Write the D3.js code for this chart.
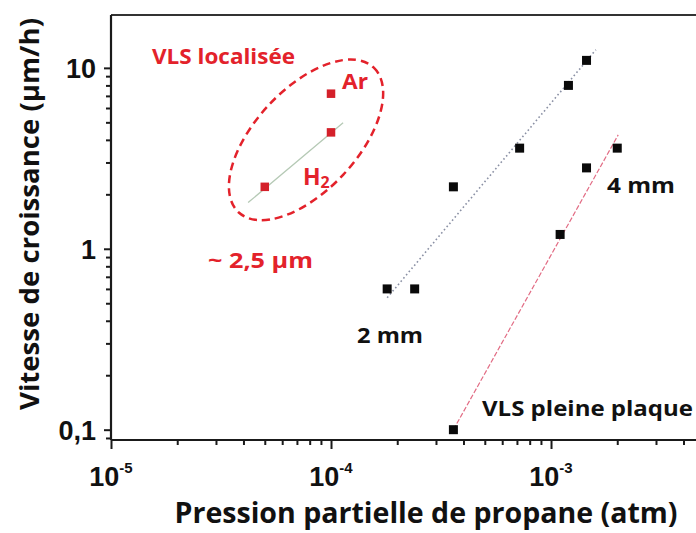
<!DOCTYPE html>
<html><head><meta charset="utf-8">
<script src="https://cdn.jsdelivr.net/npm/d3@7/dist/d3.min.js"></script>
<style>
html,body{margin:0;padding:0;background:#fff;}
svg{display:block;}
</style></head>
<body>
<div id="chart"></div>
<script>
// ---- Data ----
const xMajorTicks = [1e-5, 1e-4, 1e-3];
const xTickExponents = ["-5", "-4", "-3"];
const yMajorTicks = [0.1, 1, 10];
const yTickLabels = ["0,1", "1", "10"];

// VLS "2 mm" series
const mm2X = [1.8e-4, 2.4e-4, 3.6e-4, 7.2e-4, 1.2e-3, 1.45e-3];
const mm2Y = [0.6, 0.6, 2.2, 3.6, 8.0, 11.0];
// VLS "4 mm" series (pleine plaque)
const mm4X = [3.6e-4, 1.1e-3, 1.45e-3, 2.0e-3];
const mm4Y = [0.1, 1.2, 2.8, 3.6];
// VLS localisée (red)
const h2X = [5e-5, 1e-4];
const h2Y = [2.2, 4.4];
const arX = [1e-4];
const arY = [7.2];

// fit lines (endpoints in data space)
const fit2mmX = [1.8e-4, 1.6e-3];
const fit2mmY = [0.536, 12.6];
const fit4mmX = [3.6e-4, 2.02e-3];
const fit4mmY = [0.1, 4.26];
const fitH2X = [4.2e-5, 1.135e-4];
const fitH2Y = [1.8, 4.97];

// annotation ellipse center in data space
const ellipseCenter = [7.7e-5, 4.0];

// ---- Setup ----
const W = 696, H = 533;
const m = {left: 111, top: 15, right: 0, bottom: 93};
const RED = "#e3222b";
const FONT = "'Open Sans', Lato, sans-serif";
const NUMFONT = "'Liberation Sans', Arial, sans-serif";

const svg = d3.select("#chart").append("svg").attr("width", W).attr("height", H);

const x = d3.scaleLog().domain([1e-5, 4.56e-3]).range([m.left, W - m.right]);
const y = d3.scaleLog().domain([0.0877, 19.6]).range([H - m.bottom, m.top]);

// minor ticks
const xMinor = [];
[1e-5, 1e-4, 1e-3].forEach(d => { for (let k = 2; k <= 9; k++) { const v = d * k; if (v <= x.domain()[1]) xMinor.push(v); } });
const yMinor = [];
[0.01, 0.1, 1].forEach(d => { for (let k = 2; k <= 9; k++) { const v = d * k; if (v >= y.domain()[0] && v <= y.domain()[1]) yMinor.push(v); } });

const axisColor = "#1a1a1a";
function styleAxis(g) {
  g.select(".domain").remove();
  g.selectAll("line").attr("stroke", axisColor).attr("stroke-width", 2);
}

// x axis ticks
svg.append("g").attr("transform", `translate(0,${H - m.bottom})`)
  .call(d3.axisBottom(x).tickValues(xMinor).tickSize(5).tickFormat("")).call(styleAxis);
svg.append("g").attr("transform", `translate(0,${H - m.bottom})`)
  .call(d3.axisBottom(x).tickValues(xMajorTicks).tickSize(9).tickFormat("")).call(styleAxis);
// y axis ticks
svg.append("g").attr("transform", `translate(${m.left},0)`)
  .call(d3.axisLeft(y).tickValues(yMinor).tickSize(5).tickFormat("")).call(styleAxis);
svg.append("g").attr("transform", `translate(${m.left},0)`)
  .call(d3.axisLeft(y).tickValues(yMajorTicks).tickSize(7).tickFormat("")).call(styleAxis);

// frame lines
svg.append("line").attr("x1", m.left).attr("x2", W).attr("y1", H - m.bottom).attr("y2", H - m.bottom)
  .attr("stroke", axisColor).attr("stroke-width", 2.2);
svg.append("line").attr("x1", m.left).attr("x2", W).attr("y1", m.top).attr("y2", m.top)
  .attr("stroke", "#333").attr("stroke-width", 2.2);
svg.append("line").attr("x1", m.left).attr("x2", m.left).attr("y1", m.top).attr("y2", H - m.bottom)
  .attr("stroke", axisColor).attr("stroke-width", 2.2);

// y tick labels
svg.append("g").selectAll("text").data(yMajorTicks).join("text")
  .attr("x", m.left - 15).attr("y", d => y(d) + 10)
  .attr("text-anchor", "end").attr("font-family", NUMFONT).attr("font-weight", "bold")
  .attr("font-size", 27).attr("fill", "#111")
  .text((d, i) => yTickLabels[i]);

// x tick labels with superscripts
const xl = svg.append("g").selectAll("text").data(xMajorTicks).join("text")
  .attr("x", d => x(d)).attr("y", H - m.bottom + 46)
  .attr("text-anchor", "middle").attr("font-family", NUMFONT).attr("font-weight", "bold")
  .attr("font-size", 27).attr("fill", "#111");
xl.append("tspan").text("10");
xl.append("tspan").attr("font-size", 15).attr("dy", -13).text((d, i) => xTickExponents[i]);

// axis titles
svg.append("text").attr("x", 426).attr("y", 523).attr("text-anchor", "middle")
  .attr("font-family", FONT).attr("font-weight", "bold").attr("font-size", 28).attr("fill", "#111")
  .attr("textLength", 503).attr("lengthAdjust", "spacingAndGlyphs")
  .text("Pression partielle de propane (atm)");
svg.append("text").attr("transform", "translate(39,214) rotate(-90)").attr("text-anchor", "middle")
  .attr("font-family", FONT).attr("font-weight", "bold").attr("font-size", 27).attr("fill", "#111")
  .attr("textLength", 392).attr("lengthAdjust", "spacingAndGlyphs")
  .text("Vitesse de croissance (µm/h)");

// fit lines
const line = d3.line().x(d => x(d[0])).y(d => y(d[1]));
svg.append("path").datum(d3.zip(fit2mmX, fit2mmY)).attr("d", line)
  .attr("fill", "none").attr("stroke", "#8a90a4").attr("stroke-width", 1.6).attr("stroke-dasharray", "1.6,2.6");
svg.append("path").datum(d3.zip(fit4mmX, fit4mmY)).attr("d", line)
  .attr("fill", "none").attr("stroke", "#e26c84").attr("stroke-width", 1.2).attr("stroke-dasharray", "5,2");
svg.append("path").datum(d3.zip(fitH2X, fitH2Y)).attr("d", line)
  .attr("fill", "none").attr("stroke", "#b5c9b5").attr("stroke-width", 1.3);

// ellipse annotation
svg.append("ellipse")
  .attr("transform", `translate(${x(ellipseCenter[0])},${y(ellipseCenter[1])}) rotate(-47)`)
  .attr("rx", 99).attr("ry", 51)
  .attr("fill", "none").attr("stroke", RED).attr("stroke-width", 2.5).attr("stroke-dasharray", "8,5");

// markers
function squares(xs, ys, color, s) {
  svg.append("g").selectAll("rect").data(d3.zip(xs, ys)).join("rect")
    .attr("x", d => x(d[0]) - s / 2).attr("y", d => y(d[1]) - s / 2)
    .attr("width", s).attr("height", s).attr("fill", color);
}
squares(mm2X, mm2Y, "#0a0a0a", 9);
squares(mm4X, mm4Y, "#0a0a0a", 9);
squares(h2X, h2Y, "#d4202a", 8.5);
squares(arX, arY, "#d4202a", 8.5);

// annotations
function label(txt, px, py, size, color, len) {
  const t = svg.append("text").attr("x", px).attr("y", py)
    .attr("font-family", FONT).attr("font-weight", "bold").attr("font-size", size).attr("fill", color)
    .text(txt);
  if (len) t.attr("textLength", len).attr("lengthAdjust", "spacingAndGlyphs");
  return t;
}
label("VLS localisée", 152, 64, 21, RED, 143);
label("Ar", 342, 89, 22, RED, 26);
const h2 = svg.append("text").attr("x", 303).attr("y", 185)
  .attr("font-family", FONT).attr("font-weight", "bold").attr("font-size", 23).attr("fill", RED);
h2.append("tspan").text("H");
h2.append("tspan").attr("font-size", 16).attr("dy", 3).text("2");
label("~ 2,5 µm", 208, 268, 22, RED, 105);
label("2 mm", 357, 343, 22, "#111", 66);
label("4 mm", 607, 193, 22, "#111", 68);
label("VLS pleine plaque", 482, 416, 22, "#111", 211);
</script>
</body></html>
